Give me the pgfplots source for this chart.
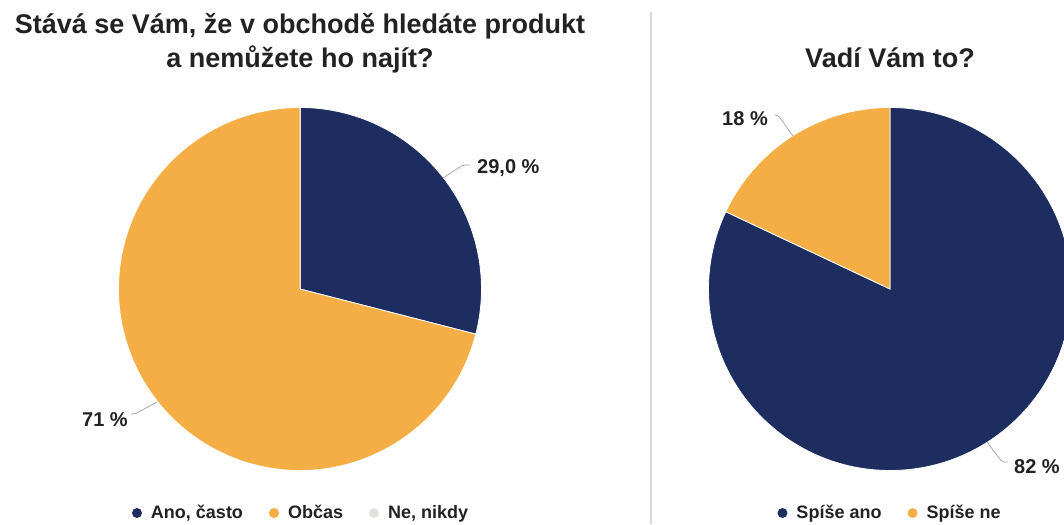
\documentclass[border=0pt]{standalone}
\usepackage{pgfplots}
\usepackage{pgfplotstable}
\pgfplotsset{compat=1.18}
\usepackage{fontspec}
\setmainfont{Liberation Sans}
\definecolor{navy}{HTML}{1D2D5F}
\definecolor{orangec}{HTML}{F4AE45}
\definecolor{greyc}{HTML}{E4E0DC}
\definecolor{textc}{HTML}{222222}
\definecolor{leadc}{HTML}{A0A0A0}
\definecolor{sepc}{HTML}{D8D8D8}

\pgfplotstableread{
category value
{Ano, často} 29.0
{Občas} 71.0
{Ne, nikdy} 0.0
}\leftdata
\pgfplotstableread{
category value
{Spíše ano} 82.0
{Spíše ne} 18.0
}\rightdata

\newcommand{\pieslice}[5]{% cx, cy, start, end, colour
  \fill[#5, draw=white, line width=0.8pt] (axis cs:#1,#2) -- ++(#3:181.5pt)
    arc[start angle=#3, end angle=#4, radius=181.5pt] -- cycle;}

\begin{document}
\begin{tikzpicture}
\pgfplotstablegetelem{0}{value}\of\leftdata
\pgfmathsetmacro\LaEnd{90-3.6*\pgfplotsretval}
\pgfplotstablegetelem{1}{value}\of\leftdata
\pgfmathsetmacro\LbEnd{\LaEnd-3.6*\pgfplotsretval}
\pgfplotstablegetelem{2}{value}\of\leftdata
\pgfmathsetmacro\LcEnd{\LbEnd-3.6*\pgfplotsretval}
\pgfplotstablegetelem{0}{value}\of\rightdata
\pgfmathsetmacro\RaEnd{90-3.6*\pgfplotsretval}
\pgfplotstablegetelem{1}{value}\of\rightdata
\pgfmathsetmacro\RbEnd{\RaEnd-3.6*\pgfplotsretval}

\pgfplotsset{
  pieaxis/.style={
    anchor=south west, scale only axis, height=524pt,
    ymin=0, ymax=524, axis lines=none,
    legend columns=-1,
    legend image code/.code={\fill[draw=none] (0pt,0pt) circle (5pt); \path[draw=none, fill=none] (-5pt,0pt) rectangle (12pt,0.1pt);},
    legend style={draw=none, fill=none, anchor=center,
      font=\fontsize{18}{21}\selectfont\bfseries, text=textc,
      /tikz/every even column/.append style={column sep=24pt}},
  }
}

% ---------- left pie ----------
\begin{axis}[pieaxis, at={(0pt,0pt)}, width=652pt, xmin=0, xmax=652,
  legend style={at={(axis description cs:0.4617,0.021)}}]
\addlegendimage{navy}\addlegendentry{Ano, často}
\addlegendimage{orangec}\addlegendentry{Občas}
\addlegendimage{greyc}\addlegendentry{Ne, nikdy}
\pieslice{300}{235}{90}{\LaEnd}{navy}
\pieslice{300}{235}{\LaEnd}{\LbEnd}{orangec}
\pieslice{300}{235}{\LbEnd}{\LcEnd}{greyc}
\draw[leadc, line width=0.7pt, rounded corners=2pt] (axis cs:443,346) -- (axis cs:463,359) -- (axis cs:470,359);
\draw[leadc, line width=0.7pt, rounded corners=2pt] (axis cs:157,122) -- (axis cs:135,110) -- (axis cs:131,110);
\node[anchor=base west, inner sep=0pt, text=textc, font=\fontsize{20}{24}\selectfont\bfseries] at (axis cs:477,350) {29,0 \%};
\node[anchor=base east, inner sep=0pt, text=textc, font=\fontsize{20}{24}\selectfont\bfseries] at (axis cs:128,97) {71 \%};
\node[anchor=base, inner sep=0pt, text=textc, font=\fontsize{27}{33}\selectfont\bfseries] at (axis cs:300,490) {Stává se Vám, že v obchodě hledáte produkt};
\node[anchor=base, inner sep=0pt, text=textc, font=\fontsize{27}{33}\selectfont\bfseries] at (axis cs:300,456) {a nemůžete ho najít?};
\end{axis}

% ---------- right pie ----------
\begin{axis}[pieaxis, at={(652pt,0pt)}, width=412pt, xmin=652, xmax=1064,
  legend style={at={(axis description cs:0.5777,0.021)}}]
\addlegendimage{navy}\addlegendentry{Spíše ano}
\addlegendimage{orangec}\addlegendentry{Spíše ne}
\pieslice{890}{235}{90}{\RaEnd}{navy}
\pieslice{890}{235}{\RaEnd}{\RbEnd}{orangec}
\draw[leadc, line width=0.7pt, rounded corners=2pt] (axis cs:793,388) -- (axis cs:778,409) -- (axis cs:774,409);
\draw[leadc, line width=0.7pt, rounded corners=2pt] (axis cs:987,82) -- (axis cs:1002,62) -- (axis cs:1008,62);
\node[anchor=base east, inner sep=0pt, text=textc, font=\fontsize{20}{24}\selectfont\bfseries] at (axis cs:768,398) {18 \%};
\node[anchor=base west, inner sep=0pt, text=textc, font=\fontsize{20}{24}\selectfont\bfseries] at (axis cs:1014,51) {82 \%};
\node[anchor=base, inner sep=0pt, text=textc, font=\fontsize{27}{33}\selectfont\bfseries] at (axis cs:890,456) {Vadí Vám to?};
\end{axis}

\draw[sepc, line width=2pt] (651pt,0pt) -- (651pt,512pt);
\pgfresetboundingbox
\useasboundingbox (0pt,0pt) rectangle (1064pt,524pt);
\end{tikzpicture}
\end{document}
